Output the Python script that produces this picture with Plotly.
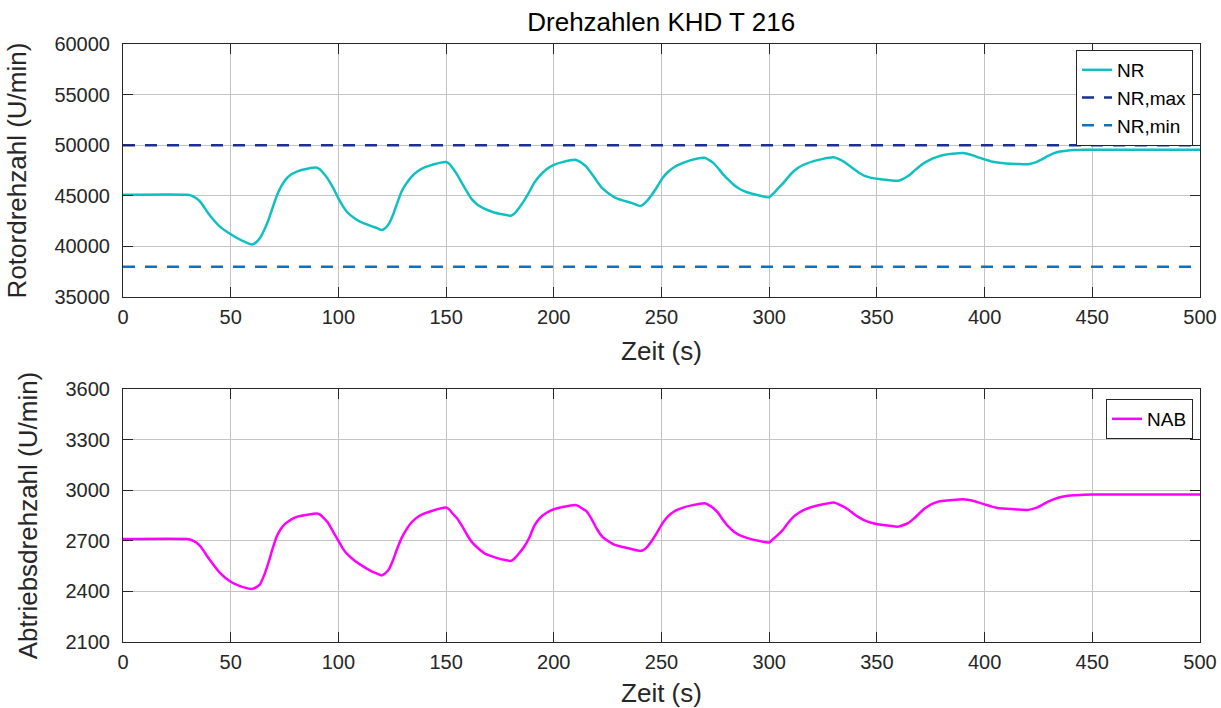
import plotly.graph_objects as go

zeit = [
    0, 30, 32, 34, 36, 40, 45, 50, 55, 60,
    61.5, 63.5, 65.5, 67.5, 69.5, 71.5, 73.5, 75.5, 78, 81, 85, 90,
    91.5, 93, 95, 97.5, 100, 102, 104, 107, 110, 115, 118, 120,
    121.5, 123.5, 125.5, 127.5, 129.5, 131.5, 134, 137, 140, 144, 150,
    151.5, 153, 155, 157.5, 160, 162, 164.5, 168, 172, 176, 180,
    181.5, 183.5, 186, 188.5, 191, 193.5, 196.5, 200, 204, 210,
    211.5, 213, 215, 217.5, 220, 222.5, 225, 228, 232, 236, 240,
    241.5, 243.5, 245.5, 248, 250.5, 253, 256, 260, 264, 270,
    272, 274, 276, 278.5, 281, 283.5, 286.5, 290, 295, 300,
    302, 304, 306.5, 309, 311.5, 314, 317, 321, 325, 330,
    332, 334, 336.5, 339, 341.5, 344, 347, 351, 355, 360,
    362, 364.5, 367, 369.5, 372, 375, 378, 381, 385, 390,
    392, 394.5, 397, 400, 403, 406, 410, 415, 420,
    422, 424.5, 427, 429.5, 432, 435, 438, 442, 446, 450, 500,
]

nr = [
    45100, 45100, 45000, 44750, 44380, 43150, 41950, 41200, 40600, 40200,
    40350, 40800, 41600, 42600, 43850, 45050, 45950, 46600, 47100, 47420, 47650, 47780,
    47600, 47250, 46700, 45800, 44750, 44000, 43400, 42850, 42450, 42030, 41800, 41620,
    41780, 42250, 43200, 44400, 45500, 46200, 46900, 47450, 47800, 48100, 48340,
    48150, 47750, 47150, 46200, 45300, 44650, 44150, 43700, 43380, 43180, 43030,
    43200, 43700, 44450, 45350, 46300, 47000, 47600, 48050, 48330, 48560,
    48420, 48250, 47900, 47200, 46450, 45750, 45300, 44880, 44550, 44300, 44000,
    44150, 44550, 45100, 45900, 46750, 47350, 47850, 48250, 48550, 48760,
    48550, 48250, 47800, 47150, 46600, 46100, 45650, 45330, 45050, 44850,
    45250, 45700, 46250, 46900, 47450, 47850, 48150, 48450, 48650, 48800,
    48650, 48450, 48100, 47700, 47300, 47000, 46800, 46650, 46560, 46490,
    46650, 46950, 47400, 47850, 48250, 48600, 48850, 49030, 49150, 49230,
    49150, 49000, 48800, 48600, 48400, 48280, 48190, 48140, 48110,
    48200, 48380, 48650, 48950, 49200, 49380, 49460, 49520, 49545, 49556, 49556,
]

nab = [
    2710, 2710, 2703, 2690, 2666, 2592, 2510, 2457, 2428, 2414,
    2422, 2440, 2495, 2569, 2655, 2730, 2775, 2803, 2826, 2843, 2853, 2862,
    2855, 2838, 2810, 2755, 2700, 2655, 2622, 2588, 2560, 2522, 2505, 2495,
    2505, 2532, 2590, 2660, 2720, 2765, 2810, 2843, 2862, 2880, 2897,
    2885, 2862, 2835, 2785, 2730, 2692, 2660, 2624, 2605, 2590, 2580,
    2592, 2620, 2660, 2715, 2790, 2835, 2865, 2887, 2900, 2912,
    2905, 2893, 2877, 2830, 2770, 2725, 2700, 2677, 2663, 2651, 2640,
    2645, 2665, 2700, 2750, 2805, 2845, 2875, 2897, 2910, 2922,
    2912, 2895, 2870, 2825, 2785, 2755, 2732, 2716, 2700, 2690,
    2712, 2735, 2767, 2810, 2845, 2868, 2888, 2905, 2917, 2927,
    2918, 2905, 2887, 2862, 2840, 2822, 2808, 2797, 2790, 2784,
    2792, 2805, 2830, 2860, 2890, 2915, 2930, 2937, 2942, 2946,
    2943, 2937, 2928, 2916, 2904, 2895, 2890, 2886, 2883,
    2888, 2898, 2915, 2932, 2946, 2958, 2966, 2970, 2973, 2974, 2974,
]

nr_max = 50000
nr_min = 38000
x_range = [0, 500]

FONT = "Liberation Sans"
AX = "#262626"
GRID = "#c4c4c4"
TICK_SIZE = 20
LABEL_SIZE = 26

fig = go.Figure()
fig.add_trace(go.Scatter(x=zeit, y=nr, mode="lines", name="NR",
                         line=dict(color="#10c0c0", width=2.5, shape="spline", smoothing=0.6),
                         xaxis="x", yaxis="y", legend="legend"))
fig.add_trace(go.Scatter(x=x_range, y=[nr_max, nr_max], mode="lines", name="NR,max",
                         line=dict(color="#1b2f95", width=2.5, dash="12px,10px"),
                         xaxis="x", yaxis="y", legend="legend"))
fig.add_trace(go.Scatter(x=x_range, y=[nr_min, nr_min], mode="lines", name="NR,min",
                         line=dict(color="#0d72c4", width=2.5, dash="12px,10px"),
                         xaxis="x", yaxis="y", legend="legend"))
fig.add_trace(go.Scatter(x=zeit, y=nab, mode="lines", name="NAB",
                         line=dict(color="#ff00ff", width=2.5, shape="spline", smoothing=0.6),
                         xaxis="x2", yaxis="y2", legend="legend2"))

axcommon = dict(showline=True, linecolor=AX, linewidth=1, mirror="ticks",
                ticks="inside", ticklen=10, tickcolor=AX, tickwidth=1,
                showgrid=True, gridcolor=GRID, gridwidth=1, zeroline=False,
                tickformat="d", automargin=False,
                tickfont=dict(family=FONT, size=TICK_SIZE, color=AX))
xcommon = dict(axcommon, range=x_range, dtick=50, tick0=0, ticklabelstandoff=2,
               title=dict(text="Zeit (s)", font=dict(family=FONT, size=LABEL_SIZE, color=AX), standoff=14))
ycommon = dict(axcommon, ticklabelstandoff=8)

fig.update_layout(
    width=1221, height=708,
    margin=dict(l=123, r=21, t=44, b=66, autoexpand=False),
    paper_bgcolor="white", plot_bgcolor="white",
    font=dict(family=FONT, color=AX),
    title=dict(text="Drehzahlen KHD T 216", x=0.5415, xanchor="center", y=0.969, yanchor="middle",
               font=dict(family=FONT, size=LABEL_SIZE, color="#000000"), automargin=False),
    xaxis=dict(xcommon, domain=[0, 1], anchor="y"),
    yaxis=dict(ycommon, domain=[0.5769, 1], range=[35000, 60000], dtick=5000, anchor="x",
               title=dict(text="Rotordrehzahl (U/min)", font=dict(family=FONT, size=LABEL_SIZE, color=AX), standoff=20)),
    xaxis2=dict(xcommon, domain=[0, 1], anchor="y2"),
    yaxis2=dict(ycommon, domain=[0, 0.4231], range=[2100, 3600], dtick=300, anchor="x2",
                title=dict(text="Abtriebsdrehzahl (U/min)", font=dict(family=FONT, size=LABEL_SIZE, color=AX), standoff=20)),
    legend=dict(x=0.9935, y=0.99, xanchor="right", yanchor="top", xref="paper", yref="paper",
                bgcolor="white", bordercolor=AX, borderwidth=1,
                font=dict(family=FONT, size=19, color="#000000"), tracegroupgap=0,
                itemwidth=30),
    legend2=dict(x=0.9935, y=0.4064, xanchor="right", yanchor="top",
                 bgcolor="white", bordercolor=AX, borderwidth=1,
                 font=dict(family=FONT, size=19, color="#000000"), itemwidth=30),
)

fig.write_html("out.html")
